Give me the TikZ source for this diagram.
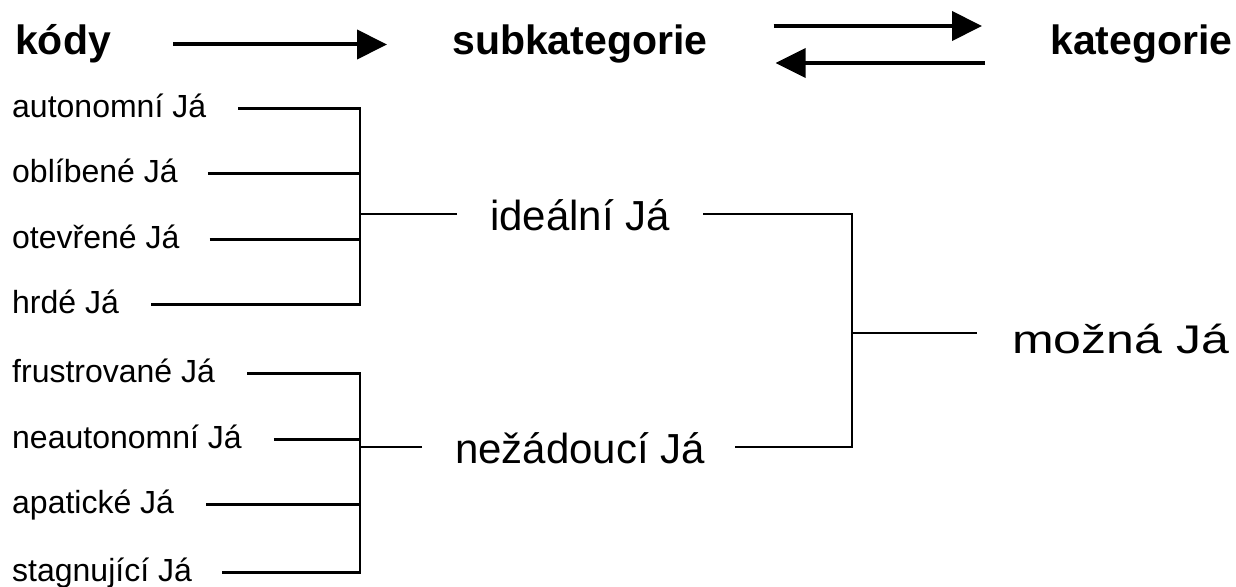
\documentclass[tikz,border=0pt]{standalone}
\usepackage{fontspec}
\setmainfont{Liberation Sans}
\newfontfamily\sirokypismo[FakeStretch=1.25]{Liberation Sans}
\usepackage{tikz}
\usetikzlibrary{arrows.meta}

\begin{document}
\begin{tikzpicture}[x=1pt, y=-1pt,
    nadpis/.style={anchor=base west, inner sep=0pt, text height=21pt, text depth=0pt, font=\fontsize{41}{48}\selectfont\bfseries},
    kod/.style={anchor=base west, inner sep=0pt, text height=17pt, text depth=0pt, font=\fontsize{32}{38}\selectfont},
    subkat/.style={anchor=base west, inner sep=0pt, text height=32pt, text depth=0pt, font=\fontsize{42}{50}\selectfont},
    kat/.style={anchor=base west, inner sep=0pt, text height=40pt, text depth=0pt, font=\fontsize{40}{48}\selectfont\sirokypismo},
    sipka/.style={line width=4pt, -{Triangle[length=30pt, width=29pt]}},
    spoj/.style={line width=2.8pt}]
    \useasboundingbox (0,0) rectangle (1236,586);

    % hlavicka
    \node[nadpis] at (15,55) (kody) {kódy};
    \node[nadpis] at (452,55) (subkategorie) {subkategorie};
    \node[nadpis] at (1050,55) (kategorie) {kategorie};
    \draw[sipka, shorten <=62pt, shorten >=65pt] (kody.east) -- (subkategorie.west);
    \draw[sipka, shorten <=66pt, shorten >=68pt] ([yshift=18.5pt]subkategorie.east) -- ([yshift=18.5pt]kategorie.west);
    \draw[sipka, shorten <=65pt, shorten >=68pt] ([yshift=-18.5pt]kategorie.west) -- ([yshift=-18.5pt]subkategorie.east);

    % kody
    \node[kod] at (12,117) (k1) {autonomní Já};
    \node[kod] at (12,182) (k2) {oblíbené Já};
    \node[kod] at (12,248) (k3) {otevřené Já};
    \node[kod] at (12,313) (k4) {hrdé Já};
    \node[kod] at (12,382) (k5) {frustrované Já};
    \node[kod] at (12,448) (k6) {neautonomní Já};
    \node[kod] at (12,513) (k7) {apatické Já};
    \node[kod] at (12,581) (k8) {stagnující Já};

    % subkategorie a kategorie
    \node[subkat] at (490,230) (idealni) {ideální Já};
    \node[subkat] at (455,463) (nezadouci) {nežádoucí Já};
    \node[kat] at (1012,353) (mozna) {možná Já};

    \coordinate (b1) at (360,0);
    \coordinate (b2) at (852,0);

    % prvni skupina
    \draw[spoj, shorten <=32pt, shorten >=32pt] (k1.east) -| (b1 |- k4.east) -- (k4.east);
    \draw[spoj, shorten <=30pt] (k2.east) -- (k2.east -| b1);
    \draw[spoj, shorten <=30pt] (k3.east) -- (k3.east -| b1);
    \draw[spoj, shorten <=33pt] (idealni.west) -- (idealni.west -| b1);

    % druha skupina
    \draw[spoj, shorten <=32pt, shorten >=30pt] (k5.east) -| (b1 |- k8.east) -- (k8.east);
    \draw[spoj, shorten <=32pt] (k6.east) -- (k6.east -| b1);
    \draw[spoj, shorten <=32pt] (k7.east) -- (k7.east -| b1);
    \draw[spoj, shorten <=33pt] (nezadouci.west) -- (nezadouci.west -| b1);

    % kategorie
    \draw[spoj, shorten <=33pt, shorten >=30pt] (idealni.east) -| (b2 |- nezadouci.east) -- (nezadouci.east);
    \draw[spoj, shorten >=35pt] (b2 |- mozna.west) -- (mozna.west);
\end{tikzpicture}
\end{document}
